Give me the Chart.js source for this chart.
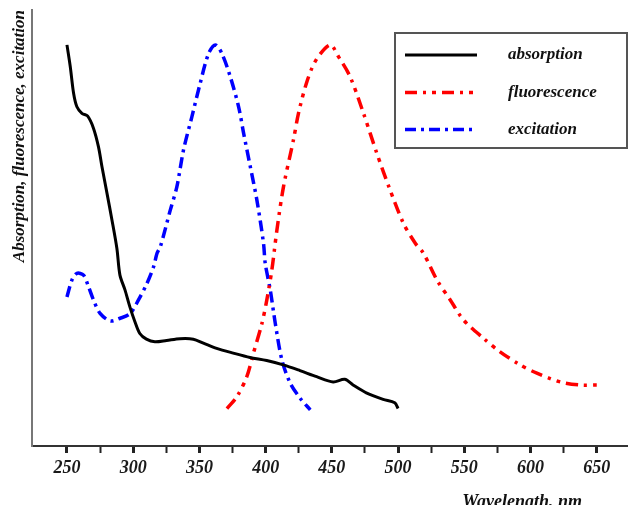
<!DOCTYPE html>
<html>
<head>
<meta charset="utf-8">
<script src="https://cdn.jsdelivr.net/npm/chart.js@4.4.1/dist/chart.umd.min.js"></script>
<style>
  html, body { margin: 0; padding: 0; background: #fff; }
  #wrap { width: 628px; height: 505px; position: relative; }
</style>
</head>
<body>
<div id="wrap"><canvas id="c" width="628" height="505"></canvas></div>
<script>
// ---- data (wavelength in nm, intensity in relative units) ----
const seriesNames = ['absorption', 'fluorescence', 'excitation'];

const absorptionX = [250,252.5,255,257.5,261.3,265.5,270,273.8,276.4,280.2,284,287.7,290,293.8,297.5,301.3,305,310,316.4,325.2,335.3,345.4,353,363,375.6,388.2,400.8,413.3,425.9,438.5,451,459.7,466,476,488.7,497.5,500];
const absorptionY = [92.0,87.0,80.9,77.8,76.3,75.7,72.9,68.6,64.1,58.0,51.8,45.3,39.2,35.8,31.9,28.5,25.8,24.5,23.9,24.2,24.6,24.5,23.6,22.4,21.3,20.3,19.6,18.6,17.3,15.9,14.7,15.3,14.0,12.2,10.7,9.9,8.6];

const fluorescenceX = [370.8,378.3,385.8,390.8,397.2,400.9,404.7,408.5,413.5,421,424.8,431.1,438,448.7,455,463.8,473.9,484,494,504,513,519.2,529.3,539.4,549.4,564.5,577,592.2,604.8,622.4,637.5,650];
const fluorescenceY = [8.6,11.3,15.9,21.3,28.1,33.5,40.4,49.5,59.5,70.2,76.3,83.5,88.5,92.0,89.3,84.7,76.3,67.1,58.7,51.1,46.5,44.2,38.1,33.5,28.9,24.7,21.6,18.6,16.7,14.7,14.0,14.0];

const excitationX = [250,253.8,257.5,262.5,266.3,270,275,282.6,290.2,297.7,304,310.4,315.4,318,320.5,328,333,338,344.3,350.6,356.9,362,367,373.3,379.6,383.4,388.4,393.4,398.4,399.7,403.5,407.3,412.3,418.6,426.2,433.7];
const excitationY = [34.2,38.1,39.6,39.2,36.5,33.5,30.4,28.7,29.3,30.4,33.5,37.3,41.1,44.2,45.7,54.1,59.5,67.9,75.5,83.2,90.0,92.0,90.0,84.7,77.8,71.7,64.1,56.4,46.5,41.9,35.8,28.1,19.7,14.4,10.9,8.3];

const xTickValues = [250,275,300,325,350,375,400,425,450,475,500,525,550,575,600,625,650];
const xTickLabelValues = [250,300,350,400,450,500,550,600,650];
const xAxisTitle = 'Wavelength, nm';
const yAxisTitle = 'Absorption, fluorescence, excitation';

// ---- helpers ----
const toPoints = (xs, ys) => xs.map((x, i) => ({ x: x, y: ys[i] }));
const SERIF = '"Liberation Serif", "DejaVu Serif", serif';

const legendPlugin = {
  id: 'boxLegend',
  afterDraw(chart) {
    const ctx = chart.ctx;
    ctx.save();
    const bx = 395, by = 33, bw = 232, bh = 115;
    ctx.fillStyle = '#fff';
    ctx.fillRect(bx, by, bw, bh);
    ctx.strokeStyle = '#555';
    ctx.lineWidth = 2;
    ctx.strokeRect(bx, by, bw, bh);
    const rows = [55, 92.5, 129.5];
    chart.data.datasets.forEach((ds, i) => {
      const y = rows[i];
      ctx.beginPath();
      ctx.setLineDash(ds.borderDash || []);
      ctx.lineWidth = ds.borderWidth;
      ctx.strokeStyle = ds.borderColor;
      ctx.lineCap = 'butt';
      ctx.moveTo(405, y);
      ctx.lineTo(477, y);
      ctx.stroke();
      ctx.setLineDash([]);
      ctx.fillStyle = '#111';
      ctx.font = 'italic bold 17px ' + SERIF;
      ctx.textBaseline = 'middle';
      ctx.textAlign = 'left';
      ctx.fillText(ds.label, 508, y);
    });
    ctx.restore();
  }
};

const xTitlePlugin = {
  id: 'xTitle',
  afterDraw(chart) {
    const ctx = chart.ctx;
    ctx.save();
    ctx.fillStyle = '#111';
    ctx.font = 'italic bold 18px ' + SERIF;
    ctx.textAlign = 'right';
    ctx.textBaseline = 'alphabetic';
    ctx.fillText(xAxisTitle, 582, 507);
    ctx.restore();
  }
};

const bgPlugin = {
  id: 'bg',
  beforeDraw(chart) {
    const ctx = chart.ctx;
    ctx.save();
    ctx.fillStyle = '#fff';
    ctx.fillRect(0, 0, chart.width, chart.height);
    ctx.restore();
  }
};

new Chart(document.getElementById('c'), {
  type: 'line',
  data: {
    datasets: [
      {
        label: seriesNames[0],
        data: toPoints(absorptionX, absorptionY),
        borderColor: '#000',
        borderWidth: 3,
        pointRadius: 0,
        tension: 0.3,
        fill: false
      },
      {
        label: seriesNames[1],
        data: toPoints(fluorescenceX, fluorescenceY),
        borderColor: '#ff0000',
        borderWidth: 3.5,
        borderDash: [12, 6, 3, 6, 4, 6],
        pointRadius: 0,
        tension: 0.3,
        fill: false
      },
      {
        label: seriesNames[2],
        data: toPoints(excitationX, excitationY),
        borderColor: '#0000ff',
        borderWidth: 3.5,
        borderDash: [11, 5, 3, 5],
        pointRadius: 0,
        tension: 0.3,
        fill: false
      }
    ]
  },
  options: {
    responsive: false,
    animation: false,
    layout: { padding: { top: 10, left: 0, right: 0, bottom: 0 } },
    plugins: {
      legend: { display: false },
      tooltip: { enabled: false }
    },
    scales: {
      x: {
        type: 'linear',
        min: 223.6,
        max: 673.6,
        afterBuildTicks(scale) {
          scale.ticks = xTickValues.map(v => ({ value: v }));
        },
        afterFit(scale) { scale.height = 59; },
        grid: {
          drawOnChartArea: false,
          drawTicks: true,
          tickLength: 7,
          tickColor: '#222',
          tickWidth: ctx => (ctx.tick && xTickLabelValues.includes(ctx.tick.value)) ? 3 : 2
        },
        border: { display: true, color: '#333', width: 2 },
        ticks: {
          padding: 5,
          color: '#1a1a1a',
          font: { family: SERIF, size: 18, style: 'italic', weight: 'bold' },
          maxRotation: 0,
          autoSkip: false,
          callback: v => xTickLabelValues.includes(v) ? String(v) : ''
        }
      },
      y: {
        type: 'linear',
        min: 0,
        max: 100,
        afterFit(scale) { scale.width = 32; },
        grid: { display: false },
        border: { display: true, color: '#777', width: 2 },
        ticks: { display: false },
        title: {
          display: true,
          text: yAxisTitle,
          align: 'end',
          color: '#111',
          padding: { top: 9, bottom: 0 },
          font: { family: SERIF, size: 17, style: 'italic', weight: 'bold' }
        }
      }
    }
  },
  plugins: [bgPlugin, legendPlugin, xTitlePlugin]
});
</script>
</body>
</html>
